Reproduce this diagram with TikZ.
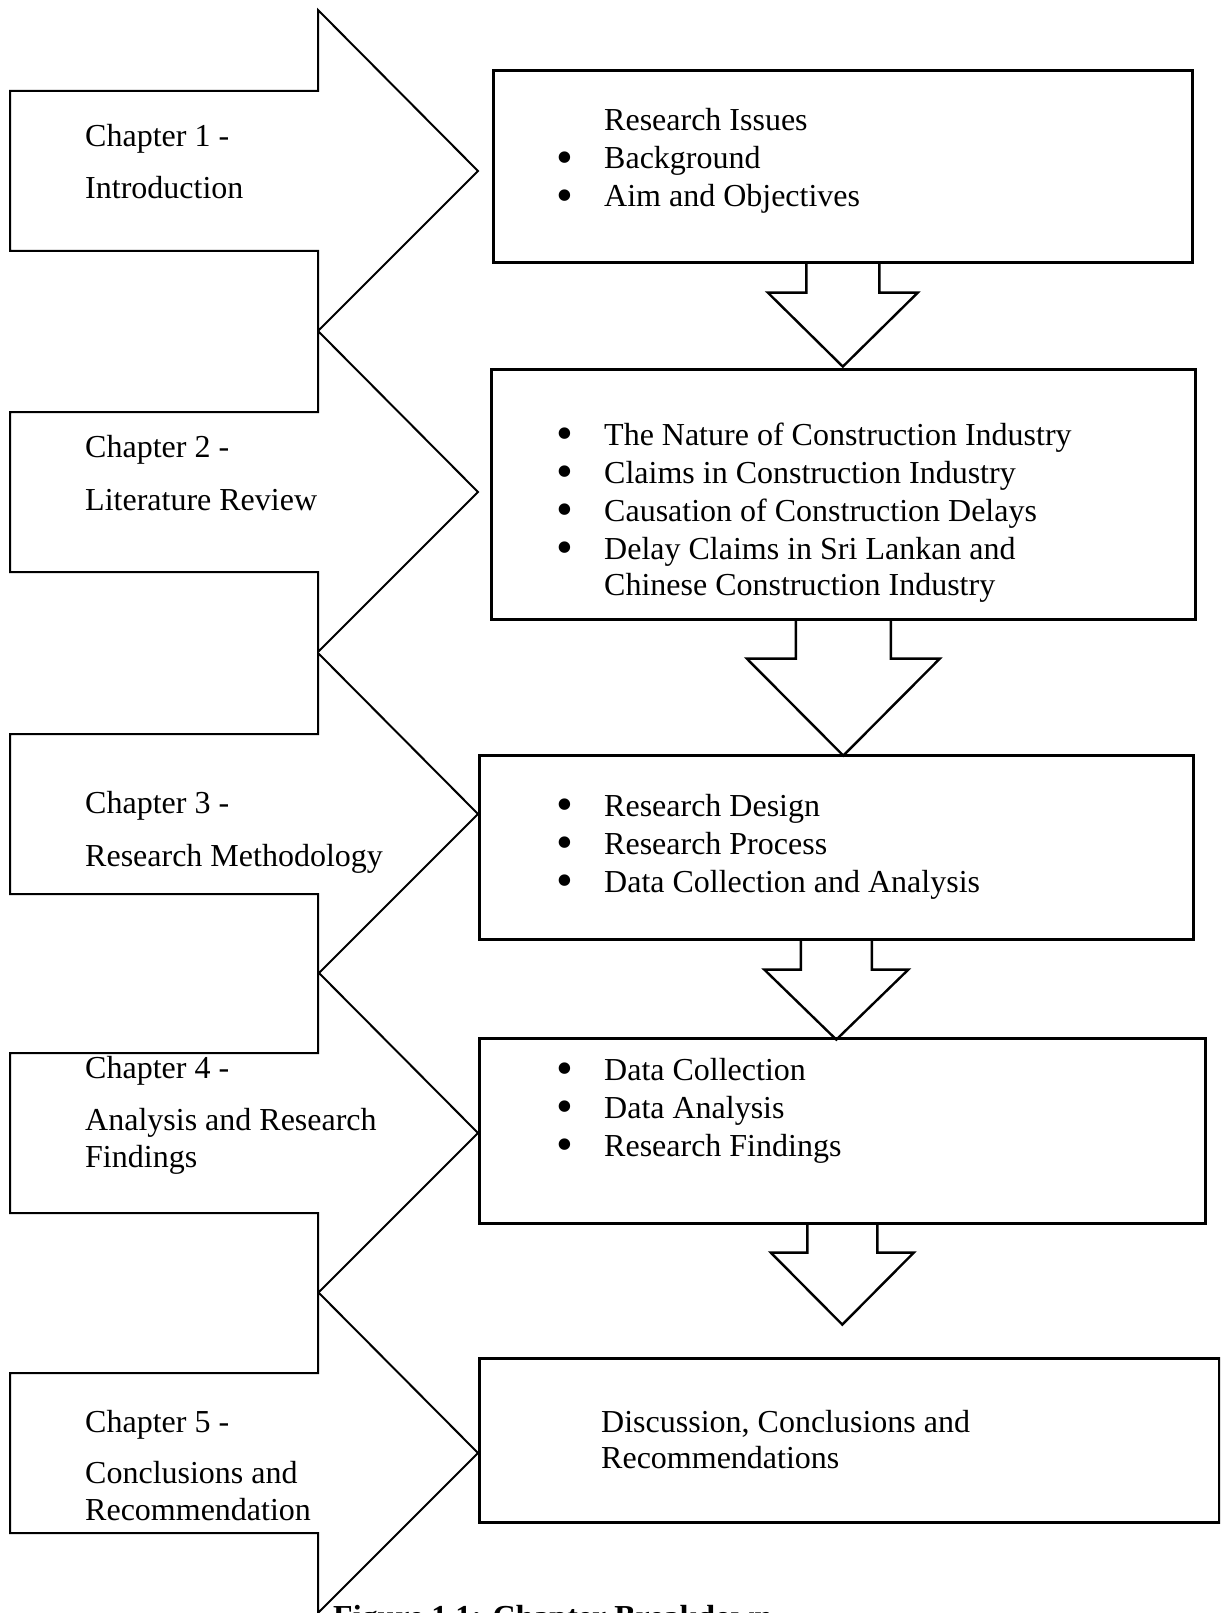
\documentclass[tikz,border=0pt]{standalone}
\usepackage{fontspec}
\usepackage{graphicx}
\setmainfont{Liberation Serif}
\usetikzlibrary{calc}

\newcommand{\chaptext}[1]{\begin{tabular}[t]{@{}l@{}}#1\end{tabular}}
\newcommand{\bul}{\makebox[48pt][l]{\smash{\raisebox{-4.5pt}{\scalebox{1.5}{\textbullet}}}}}
\newcommand{\nobul}{\hspace*{48pt}}
% block arrow hanging under a box: node, shaft half width, shaft length, head half width, head length
\newcommand{\blockdown}[5]{%
  \draw[blockline] ($(#1.south)+(-#2,0)$) -- ++(0,#3) -- ++(#2-#4,0) -- ++(#4,#5)
    -- ++(#4,-#5) -- ++(#2-#4,0) -- ++(0,-#3);}

\begin{document}
\begin{tikzpicture}[
    x=1pt, y=-1pt,
    font=\fontsize{32}{38}\selectfont,
    box/.style={draw,line width=2.6pt,inner sep=0pt,anchor=north west},
    blockline/.style={line width=2.4pt},
    chap/.style={line width=2pt},
    lbl/.style={anchor=base west,inner sep=0pt}
]
\useasboundingbox (0,0) rectangle (1220,1613);
\clip (0,0) rectangle (1220,1613);

% chapter arrows
\foreach \h in {10,331,653,972,1292}
  \draw[chap] (10,\h+81) -- (318,\h+81) -- (318,\h) -- (478,\h+161)
    -- (318,\h+321) -- (318,\h+241) -- (10,\h+241) -- cycle;

\node[lbl] (c1) at (85,147) {\chaptext{Chapter 1 -\\[14pt] Introduction}};
\node[lbl] (c2) at (85,457) {\chaptext{Chapter 2 -\\[15pt] Literature Review}};
\node[lbl] (c3) at (85,813) {\chaptext{Chapter 3 -\\[15pt] Research Methodology}};
\node[lbl] (c4) at (85,1078) {\chaptext{Chapter 4 -\\[14pt] Analysis and Research\\[-1pt] Findings}};
\node[lbl] (c5) at (85,1432) {\chaptext{Chapter 5 -\\[13pt] Conclusions and\\[-1pt] Recommendation}};

% content boxes
\node[box,minimum width=699,minimum height=192] (b1) at (492,69) {};
\node[box,minimum width=704,minimum height=250] (b2) at (490,368) {};
\node[box,minimum width=714,minimum height=184] (b3) at (478,754) {};
\node[box,minimum width=726,minimum height=185] (b4) at (478,1037) {};
\node[box,minimum width=740,minimum height=164] (b5) at (478,1357) {};

\node[lbl] (t1) at (556,131) {\chaptext{\nobul Research Issues\\ \bul Background\\ \bul Aim and Objectives}};
\node[lbl] (t2) at (556,445) {\chaptext{\bul The Nature of Construction Industry\\
  \bul Claims in Construction Industry\\ \bul Causation of Construction Delays\\
  \bul Delay Claims in Sri Lankan and\\[-2pt] \nobul Chinese Construction Industry}};
\node[lbl] (t3) at (556,816) {\chaptext{\bul Research Design\\ \bul Research Process\\ \bul Data Collection and Analysis}};
\node[lbl] (t4) at (556,1080) {\chaptext{\bul Data Collection\\ \bul Data Analysis\\ \bul Research Findings}};
\node[lbl] (t5) at (601,1432) {\chaptext{Discussion, Conclusions and\\[-2pt] Recommendations}};

\blockdown{b1}{36.5}{29}{75}{74}
\blockdown{b2}{47.5}{38}{96.5}{97}
\blockdown{b3}{35.5}{29}{72}{70}
\blockdown{b4}{35}{28}{71.5}{72}

\node[lbl,font=\fontsize{32}{38}\selectfont\bfseries] (cap) at (333,1627) {Figure 1.1: Chapter Breakdown};
\end{tikzpicture}
\end{document}
